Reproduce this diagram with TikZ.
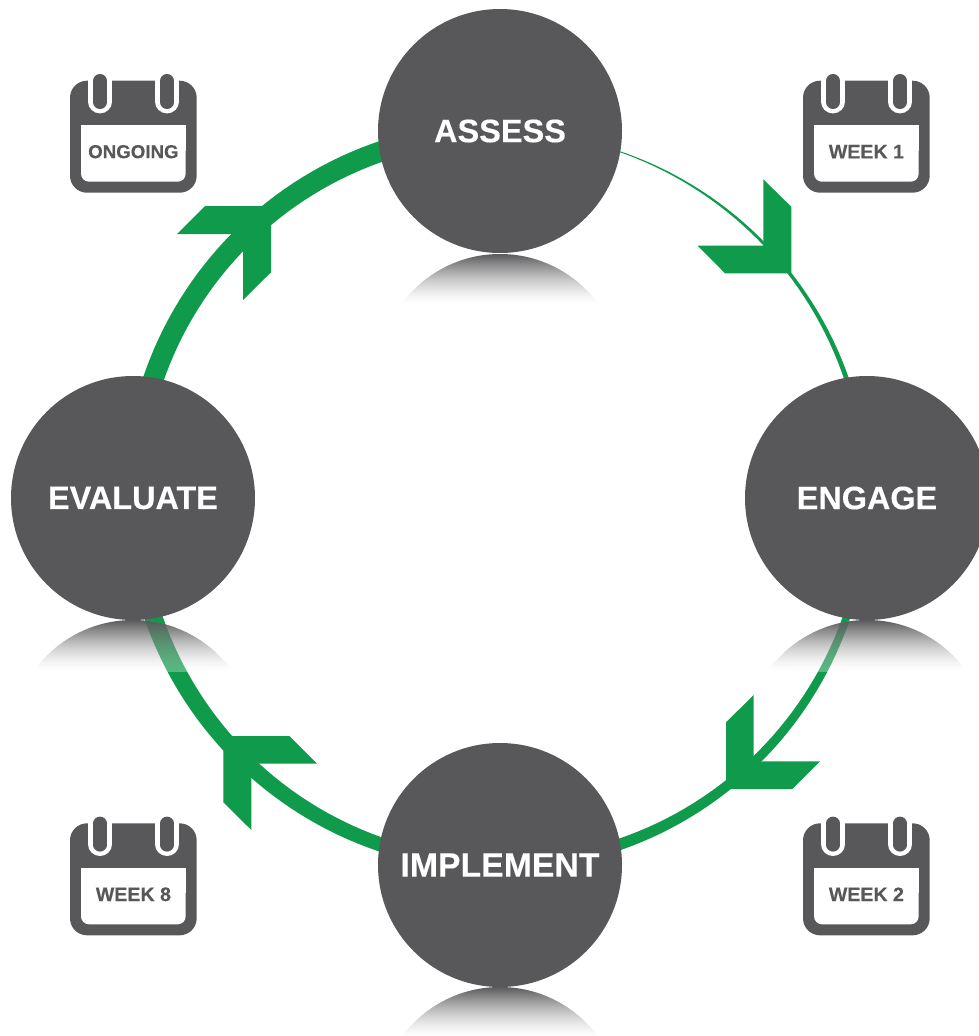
\documentclass[tikz,border=0pt]{standalone}
\usepackage{fontspec}
\setmainfont{Liberation Sans}[BoldFeatures={FakeBold=0.25}]
\definecolor{slate}{HTML}{58585A}
\definecolor{ringgreen}{HTML}{109A4B}
\tikzset{
  stage/.style={circle, fill=slate, text=white, minimum size=244pt, inner sep=0pt, font=\bfseries},
  chevron/.style={fill=ringgreen},
  pagelabel/.style={text=slate, inner sep=0pt, font=\bfseries\fontsize{18.7}{20}\selectfont},
  weeklabel/.style={pagelabel, font=\bfseries\fontsize{19.6}{21}\selectfont},
  declare function={ringw(\a)=min(20.5,1+(\a-20)*0.0736);}
}
\newcommand{\calicon}[5]{%
  \begin{scope}[shift={(#1,#2)}]
    \fill[slate, rounded corners=17pt] (0,0) rectangle (126.7,112);
    \draw[white, line width=23.4pt, line cap=round] (30,-8) -- (30,21);
    \draw[white, line width=23.4pt, line cap=round] (97,-8) -- (97,21);
    \draw[slate, line width=13.4pt, line cap=round] (30,0) -- (30,21.6);
    \draw[slate, line width=13.4pt, line cap=round] (97,0) -- (97,21.6);
    \fill[white, rounded corners=8pt] (11,60) -- (11,101) -- (115.7,101) -- (115.7,60) -- cycle;
    \fill[white] (11,44.6) rectangle (115.7,70);
    \node[#5] (#3) at (63.4,71) {#4};
  \end{scope}}
\newcommand{\reflect}[3]{%
  \begin{scope}
    \clip (#1,#2+122) circle[radius=122];
    \fill[white, fill opacity=0.3] (#1-122,#2) rectangle (#1+122,#2+52);
    \foreach \i in {0,...,51} {
      \pgfmathsetmacro{\fadeop}{(1-(\i+0.5)/52)^1.6}
      \fill[slate, fill opacity=\fadeop] (#1-122,#2+\i) rectangle (#1+122,#2+\i+1);
    }
  \end{scope}}
\begin{document}
\begin{tikzpicture}[x=1pt,y=-1pt]
  \useasboundingbox (0,0) rectangle (978,1036);
  % ring of growing width
  \fill[ringgreen]
    plot[domain=15:345, samples=200, variable=\t]
      ({500+(366.5+ringw(\t)/2)*sin(\t)},{498-(366.5+ringw(\t)/2)*cos(\t)})
    -- plot[domain=345:15, samples=200, variable=\t]
      ({500+(366.5-ringw(\t)/2)*sin(\t)},{498-(366.5-ringw(\t)/2)*cos(\t)})
    -- cycle;
  % arrowheads
  \fill[chevron] (763.3,179.3) -- (791.3,206.7) -- (791.3,273.3) -- (725,273.3) -- (697.7,245.7) -- (763.3,245.7) -- cycle;
  \fill[chevron] (753.7,695) -- (726,722.3) -- (726,789) -- (792.3,789) -- (820,761.3) -- (753.7,761.3) -- cycle;
  \fill[chevron] (223.3,736) -- (289.3,736) -- (317,763.7) -- (251.3,763.7) -- (251.3,830) -- (223.3,802.3) -- cycle;
  \fill[chevron] (271,206) -- (205,206) -- (177,234) -- (243,234) -- (243,300) -- (271,272.3) -- cycle;
  % reflections
  \reflect{500}{254}{52}
  \reflect{867}{620}{52}
  \reflect{133}{620}{52}
  \reflect{500}{987}{49}
  % stages
  \node[stage] (assess) at (500,131) {\fontsize{32.5}{36}\selectfont ASSESS};
  \node[stage] (engage) at (867,498) {\fontsize{32.4}{36}\selectfont ENGAGE};
  \node[stage] (implement) at (500,865) {\fontsize{33.8}{36}\selectfont IMPLEMENT};
  \node[stage] (evaluate) at (133,498) {\fontsize{32.4}{36}\selectfont EVALUATE};
  % calendars
  \calicon{70}{80.7}{calongoing}{ONGOING}{pagelabel}
  \calicon{803}{80.7}{calone}{WEEK 1}{weeklabel}
  \calicon{803}{823.3}{caltwo}{WEEK 2}{weeklabel}
  \calicon{70}{823.3}{caleight}{WEEK 8}{weeklabel}
\end{tikzpicture}
\end{document}
